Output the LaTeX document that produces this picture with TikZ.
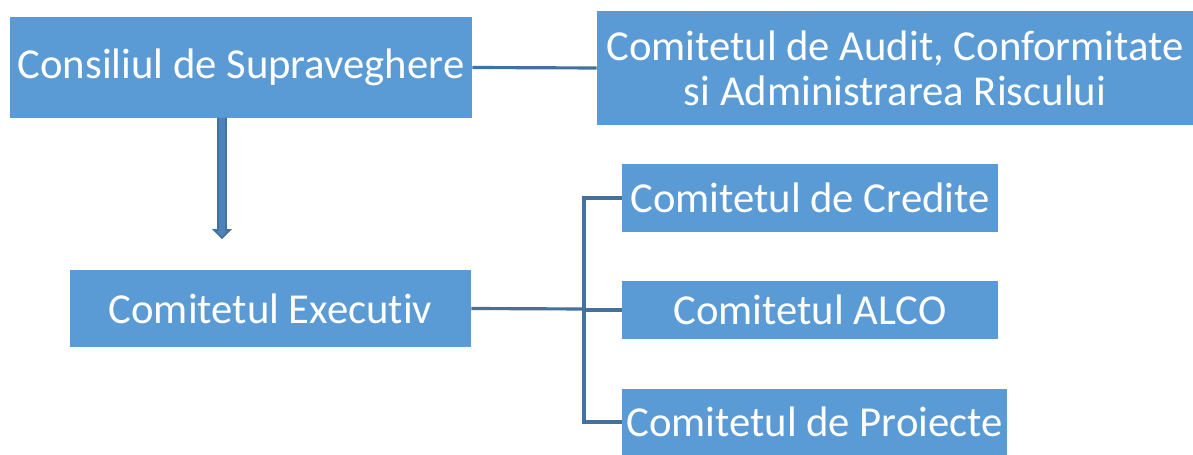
\documentclass[tikz,border=0pt]{standalone}
\usepackage{fontspec}
\setmainfont{Carlito}[RawFeature=-liga]
\usetikzlibrary{calc}
\definecolor{boxblue}{RGB}{91,155,213}
\definecolor{lineblue}{RGB}{65,113,156}
\definecolor{arrowfill}{RGB}{79,129,189}
\newcommand{\pxu}{0.02cm}

\begin{document}
\begin{tikzpicture}[x=0.02cm,y=-0.02cm,
  orgbox/.style={fill=boxblue,text=white,inner sep=0pt,align=center,
    font=\fontsize{24.3}{25.6}\selectfont},
  link/.style={draw=lineblue,line width=1.8pt}]
\useasboundingbox (0,0) rectangle (1193,455);

\node (sup) at (241,67.5) [orgbox,minimum width=462*\pxu,minimum height=101*\pxu] {Consiliul de Supraveghere};
\node (aud) at (895,68) [orgbox,minimum width=596*\pxu,minimum height=114*\pxu] {Comitetul de Audit, Conformitate\\si Administrarea Riscului};
\node (exe) at (270.5,308.5) [orgbox,minimum width=401*\pxu,minimum height=77*\pxu] {Comitetul Executiv};
\node (cre) at (810,198) [orgbox,minimum width=376*\pxu,minimum height=68*\pxu] {Comitetul de Credite};
\node (alc) at (810,310) [orgbox,minimum width=376*\pxu,minimum height=58*\pxu] {Comitetul ALCO};
\node (pro) at (814.5,422) [orgbox,minimum width=385*\pxu,minimum height=66*\pxu] {Comitetul de Proiecte};

%arrow down
\coordinate (a1) at (222,118);
\coordinate (a2) at (222,238);
\draw[lineblue,fill=arrowfill,line width=1pt] ($(a1)+(-4,0)$) -- ($(a2)+(-4,-8)$) -- ($(a2)+(-8,-8)$) -- (a2)
  -- ($(a2)+(8,-8)$) -- ($(a2)+(4,-8)$) -- ($(a1)+(4,0)$);

\draw[link] (sup.east) -- (aud.west);

\coordinate (br) at (584,309);
\draw[link] (exe.east) -- (br);
\draw[link] (br) |- (cre.west);
\draw[link] (br) |- (alc.west);
\draw[link] (br) |- (pro.west);
\end{tikzpicture}
\end{document}
